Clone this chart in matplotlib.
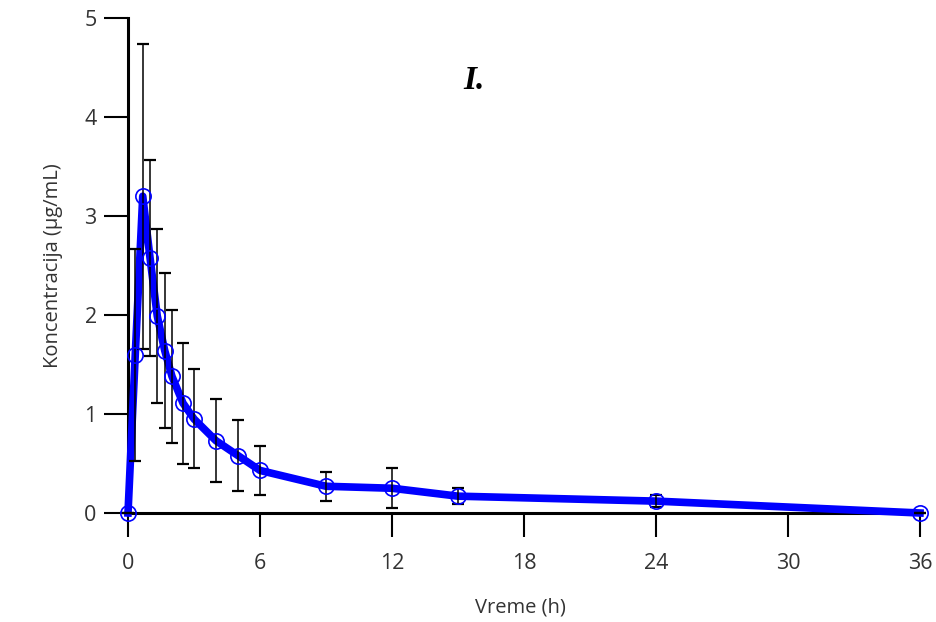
import matplotlib.pyplot as plt

# sampling times (h), mean concentration and SD (µg/mL)
vreme = [0, 0.33, 0.67, 1, 1.33, 1.67, 2, 2.5, 3, 4, 5, 6, 9, 12, 15, 24, 36]
konc = [0, 1.60, 3.20, 2.58, 1.99, 1.64, 1.38, 1.11, 0.95, 0.73, 0.58, 0.43,
        0.27, 0.25, 0.17, 0.12, 0.0]
sd = [0, 1.07, 1.54, 0.99, 0.88, 0.78, 0.67, 0.61, 0.50, 0.42, 0.36, 0.25,
      0.145, 0.20, 0.08, 0.06, 0]

x_ticks = [0, 6, 12, 18, 24, 30, 36]
y_ticks = [0, 1, 2, 3, 4, 5]

plt.rcParams["font.family"] = ["Open Sans", "DejaVu Sans"]

fig = plt.figure(figsize=(9.37, 6.22), dpi=100)
ax = fig.add_axes([128 / 937, 1 - 513 / 622, 792 / 937, 495 / 622])

ax.plot(vreme, konc, color="#0000ff", lw=5.5, zorder=2, clip_on=False,
        solid_joinstyle="round")
ax.errorbar(vreme, konc, yerr=sd, fmt="none", ecolor="black", elinewidth=1.1,
            capsize=4.5, capthick=1.6, zorder=3, clip_on=False)
ax.plot(vreme, konc, ls="none", marker="o", ms=11, mfc="none", mec="#0000ff",
        mew=1.2, zorder=4, clip_on=False)

ax.set_xlim(0, 36)
ax.set_ylim(0, 5)
ax.set_xticks(x_ticks)
ax.set_yticks(y_ticks)

for s in ["top", "right"]:
    ax.spines[s].set_visible(False)
for s in ["left", "bottom"]:
    ax.spines[s].set_linewidth(2.2)
    ax.spines[s].set_zorder(1)

ax.tick_params(direction="out", length=17.5, width=1.5, labelsize=15.5,
               colors="black")
ax.tick_params(axis="x", pad=11)
ax.tick_params(axis="y", pad=5)
for lab in ax.get_xticklabels() + ax.get_yticklabels():
    lab.set_color("#333333")

ax.set_xlabel("Vreme (h)", fontsize=14.5, color="#333333")
ax.set_ylabel("Koncentracija (µg/mL)", fontsize=14.5, color="#333333")
ax.xaxis.set_label_coords(0.496, -0.17)
ax.yaxis.set_label_coords(-0.082, 0.5)

fig.text(463 / 937, 1 - 89 / 622, "I.", fontsize=24, fontweight="bold",
         fontstyle="italic", family="Liberation Serif", ha="left",
         va="baseline")

fig.savefig("out.png", dpi=100)
